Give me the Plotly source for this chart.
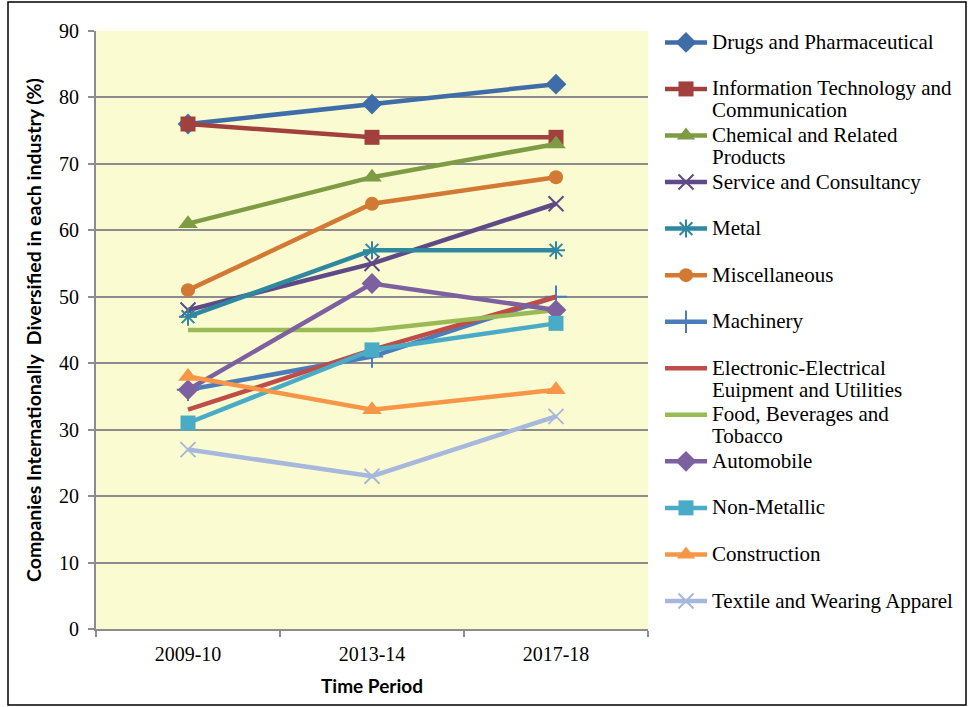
import plotly.graph_objects as go

periods = ["2009-10", "2013-14", "2017-18"]

drugs = [76, 79, 82]
it_comm = [76, 74, 74]
chemical = [61, 68, 73]
service = [48, 55, 64]
metal = [47, 57, 57]
misc = [51, 64, 68]
machinery = [36, 41, 50]
electronic = [33, 42, 50]
food = [45, 45, 48]
automobile = [36, 52, 48]
non_metallic = [31, 42, 46]
construction = [38, 33, 36]
textile = [27, 23, 32]

# (legend name, values, colour, marker symbol, name wraps onto two lines)
series = [
    ("Drugs and Pharmaceutical", drugs, "#3E6DA7", "diamond", False),
    ("Information Technology and<br>Communication", it_comm, "#A2403D", "square", True),
    ("Chemical and Related<br>Products", chemical, "#7D9C44", "triangle-up", True),
    ("Service and Consultancy", service, "#5E4A86", "x-thin", False),
    ("Metal", metal, "#2F889F", "asterisk", False),
    ("Miscellaneous", misc, "#D27A34", "circle", False),
    ("Machinery", machinery, "#4A7DBA", "cross-thin", False),
    ("Electronic-Electrical<br>Euipment and Utilities", electronic, "#BF4C49", None, True),
    ("Food, Beverages and<br>Tobacco", food, "#99BA55", None, True),
    ("Automobile", automobile, "#7D60A0", "diamond", False),
    ("Non-Metallic", non_metallic, "#4AABC6", "square", False),
    ("Construction", construction, "#F79646", "triangle-up", False),
    ("Textile and Wearing Apparel", textile, "#A6B8DB", "x-thin", False),
]

MARKER_SIZES = {"diamond": 16, "square": 15, "triangle-up": 17, "circle": 14,
                "x-thin": 15, "cross-thin": 16, "asterisk": 15}

W, H = 968, 707
ML, MR, MT, MB = 96, 320, 31, 78
PW, PH = W - ML - MR, H - MT - MB

SERIF = "Liberation Serif, Times New Roman, serif"
BOLD_SANS = "Lato, Liberation Sans, sans-serif"
LEGEND_TEXT_PX = 21


def px_x(p):
    return (p - ML) / PW


def px_y(p):
    return (H - MB - p) / PH


def legend_label(name, wrapped):
    # every legend entry spans two text lines so the rows are evenly spaced
    text = name if wrapped else name + "<br> "
    open_tag = "<span style='font-size:%dpx'>" % LEGEND_TEXT_PX
    return open_tag + text.replace("<br>", "</span><br>" + open_tag) + "</span>"


fig = go.Figure()
for name, vals, color, sym, wrapped in series:
    if sym is None:
        marker = dict(size=1, opacity=0)
        mode = "lines"
    elif sym in ("x-thin", "cross-thin", "asterisk"):
        marker = dict(symbol=sym, size=MARKER_SIZES[sym], line=dict(color=color, width=2), color=color)
        mode = "lines+markers"
    else:
        marker = dict(symbol=sym, size=MARKER_SIZES[sym], color=color, line=dict(width=0))
        mode = "lines+markers"
    fig.add_trace(go.Scatter(
        x=periods, y=vals, name=legend_label(name, wrapped), mode=mode,
        line=dict(color=color, width=4.5),
        marker=marker,
    ))

fig.update_layout(
    width=W, height=H,
    margin=dict(l=ML, r=MR, t=MT, b=MB, pad=0, autoexpand=False),
    paper_bgcolor="white",
    plot_bgcolor="#FAFBD1",
    font=dict(family=SERIF, size=20, color="black"),
    showlegend=True,
    legend=dict(
        x=px_x(660), xanchor="left",
        y=px_y(25), yanchor="top",
        font=dict(family=SERIF, size=16.75, color="black"),
        valign="top",
        itemwidth=42,
        tracegroupgap=0,
        maxheight=700,
        bgcolor="rgba(0,0,0,0)",
        itemclick=False,
    ),
    xaxis=dict(
        type="category",
        range=[-0.5, 2.5],
        showgrid=False,
        showline=True, linecolor="#8C8C8C", linewidth=2,
        ticks="outside", tickson="boundaries", ticklen=6, tickcolor="#8C8C8C", tickwidth=2,
        tickfont=dict(family=SERIF, size=20, color="black"),
        ticklabelstandoff=6,
        title=dict(text="<b>Time Period</b>", font=dict(family=BOLD_SANS, size=19, color="black"), standoff=16),
        fixedrange=True,
    ),
    yaxis=dict(
        range=[0, 90],
        dtick=10,
        showgrid=True, gridcolor="#8C8C8C", gridwidth=2,
        zeroline=False,
        showline=True, linecolor="#8C8C8C", linewidth=2,
        ticks="outside", ticklen=6, tickcolor="#8C8C8C", tickwidth=2,
        tickfont=dict(family=SERIF, size=20, color="black"),
        ticklabelstandoff=5,
        title=dict(text="<b>Companies Internationally&nbsp; Diversified in each industry (%)</b>",
                   font=dict(family=BOLD_SANS, size=19.5, color="black"), standoff=12),
        fixedrange=True,
    ),
)

# thin black frame around the whole figure
fig.add_shape(type="rect", xref="paper", yref="paper",
              x0=px_x(8), x1=px_x(966), y0=px_y(705), y1=px_y(2),
              line=dict(color="black", width=1.5), fillcolor="rgba(0,0,0,0)", layer="below")

fig.write_html("out.html")
